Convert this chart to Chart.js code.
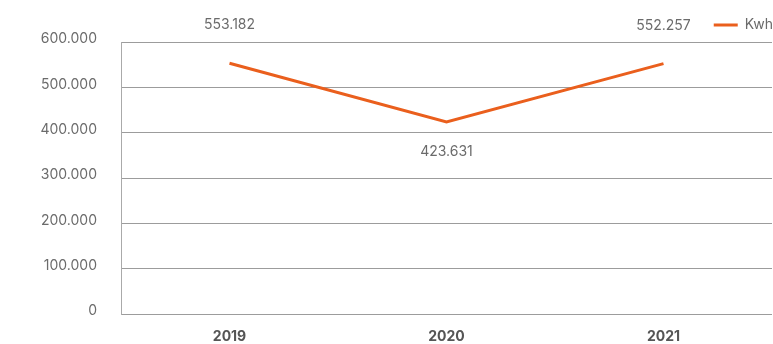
<!DOCTYPE html>
<html>
<head>
<meta charset="utf-8">
<script src="https://cdn.jsdelivr.net/npm/chart.js@4.4.1/dist/chart.umd.min.js"></script>
<style>
  html, body { margin: 0; padding: 0; background: #fff; }
  #wrap { width: 773px; height: 344px; }
</style>
</head>
<body>
<div id="wrap"><canvas id="myChart"></canvas></div>
<script>
// yearly consumption
const years = ['2019', '2020', '2021'];
const kwh = [553182, 423631, 552257];
const yTicks = [0, 100000, 200000, 300000, 400000, 500000, 600000];

// 553182 -> "553.182"
const dots = v => String(Math.round(v)).replace(/\B(?=(\d{3})+(?!\d))/g, '.');

const lineColor = '#ea5f1d';
const textColor = '#6b6b6b';
const gridColor = '#9c9c9c';

// value labels: above the first and last point, below the middle one
const valueLabels = {
  id: 'valueLabels',
  afterLayout(chart) {
    // push the legend a bit further to the right edge
    chart.legend.right += 14;
  },
  afterDatasetsDraw(chart) {
    const ctx = chart.ctx;
    const meta = chart.getDatasetMeta(0);
    ctx.save();
    ctx.font = '14px Inter';
    ctx.fillStyle = textColor;
    ctx.textAlign = 'center';
    ctx.textBaseline = 'middle';
    meta.data.forEach((pt, i) => {
      const below = i === 1;
      ctx.fillText(dots(kwh[i]), pt.x, below ? pt.y + 30 : pt.y - 38);
    });
    ctx.restore();
  }
};

const ctx = document.getElementById('myChart');

new Chart(ctx, {
  type: 'line',
  data: {
    labels: years,
    datasets: [{
      label: 'Kwh',
      data: kwh,
      borderColor: lineColor,
      backgroundColor: lineColor,
      borderWidth: 3,
      pointRadius: 0,
      tension: 0
    }]
  },
  options: {
    responsive: true,
    maintainAspectRatio: false,
    animation: false,
    layout: { padding: { top: 5, right: 1, left: 0, bottom: 0 } },
    plugins: {
      tooltip: { enabled: false },
      legend: {
        position: 'top',
        align: 'end',
        labels: {
          usePointStyle: true,
          pointStyle: 'line',
          pointStyleWidth: 24,
          color: textColor,
          font: { family: 'Inter', size: 14 },
          padding: 13
        }
      }
    },
    scales: {
      x: {
        offset: true,
        grid: { display: false, drawTicks: false },
        border: { display: false },
        ticks: {
          color: '#555',
          padding: 14,
          font: { family: 'Inter', size: 14, weight: 'bold' }
        },
        afterFit: s => { s.height = 30; }
      },
      y: {
        min: 0,
        max: 600000,
        afterBuildTicks: s => { s.ticks = yTicks.map(v => ({ value: v })); },
        grid: { color: gridColor, drawTicks: false },
        border: { display: true, color: '#aaa' },
        ticks: {
          color: textColor,
          padding: 24,
          labelOffset: -3,
          font: { family: 'Inter', size: 14 },
          callback: v => dots(v)
        },
        afterFit: s => {
          s.width = 121;
          s.paddingTop = 0;
          s.paddingBottom = 0;
        }
      }
    }
  },
  plugins: [valueLabels]
});
</script>
</body>
</html>
